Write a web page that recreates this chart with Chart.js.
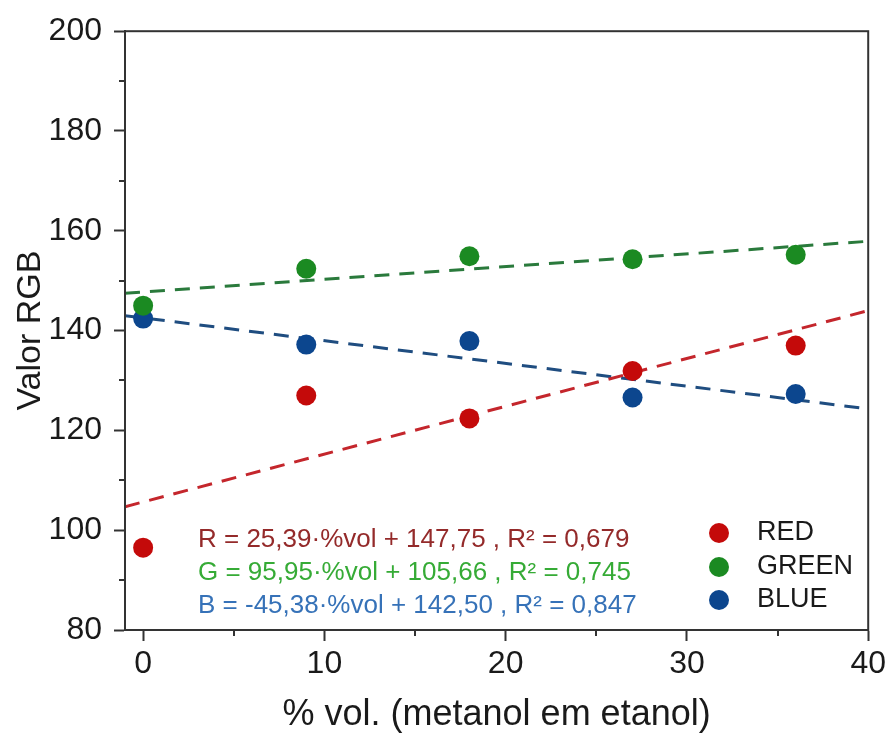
<!DOCTYPE html>
<html>
<head>
<meta charset="utf-8">
<script src="https://cdn.jsdelivr.net/npm/chart.js@4/dist/chart.umd.min.js"></script>
<style>
  html, body { margin: 0; padding: 0; background: #ffffff; }
  #wrap { width: 890px; height: 738px; position: relative; }
</style>
</head>
<body>
<div id="wrap"><canvas id="c" width="890" height="738"></canvas></div>
<script>
// ---- data ----
const xValues = [0, 9, 18, 27, 36];
const redValues = [96.5, 127.0, 122.4, 131.9, 137.0];
const greenValues = [145.0, 152.4, 154.9, 154.3, 155.2];
const blueValues = [142.4, 137.2, 137.9, 126.6, 127.3];

const trendX = [-1, 40];
const redTrend = [104.7, 144.0];
const greenTrend = [147.5, 157.9];
const blueTrend = [143.0, 124.3];

const seriesLabels = ['RED', 'GREEN', 'BLUE'];
const equationLines = [
  'R = 25,39·%vol + 147,75 , R² = 0,679',
  'G = 95,95·%vol + 105,66 , R² = 0,745',
  'B = -45,38·%vol + 142,50 , R² = 0,847'
];

const xMajorTicks = [0, 10, 20, 30, 40];
const xMinorTicks = [5, 15, 25, 35];
const yMajorTicks = [80, 100, 120, 140, 160, 180, 200];
const yMinorTicks = [90, 110, 130, 150, 170, 190];

const xTitle = '% vol. (metanol em etanol)';
const yTitle = 'Valor RGB';

// ---- styles ----
const pointColors = ['#c40a0a', '#1b8a22', '#0c468e'];
const lineColors = ['#c4262c', '#2a7a3c', '#1f4d80'];
const eqColors = ['#942a2a', '#36ab36', '#3672b8'];
const FONT = "'Liberation Sans', Arial, sans-serif";
const AXIS = '#333333';

function pts(xs, ys) { return xs.map((x, i) => ({ x: x, y: ys[i] })); }

const scatterData = [redValues, greenValues, blueValues];
const trendData = [redTrend, greenTrend, blueTrend];

const datasets = [];
for (let i = 0; i < 3; i++) {
  datasets.push({
    type: 'line',
    label: seriesLabels[i] + ' fit',
    data: pts(trendX, trendData[i]),
    borderColor: lineColors[i],
    borderWidth: 3,
    borderDash: [15, 10],
    pointRadius: 0,
    fill: false,
    order: 2
  });
}
for (let i = 0; i < 3; i++) {
  datasets.push({
    type: 'scatter',
    label: seriesLabels[i],
    data: pts(xValues, scatterData[i]),
    backgroundColor: pointColors[i],
    borderColor: pointColors[i],
    borderWidth: 0,
    pointRadius: 10,
    pointHoverRadius: 10,
    order: 1
  });
}

const decor = {
  id: 'decor',
  afterDraw(chart) {
    const ctx = chart.ctx;
    const a = chart.chartArea;
    const xs = chart.scales.x, ys = chart.scales.y;
    ctx.save();
    // frame
    ctx.strokeStyle = AXIS;
    ctx.lineWidth = 2;
    ctx.strokeRect(a.left, a.top, a.right - a.left, a.bottom - a.top);
    // minor ticks
    ctx.beginPath();
    yMinorTicks.forEach(v => {
      const y = Math.round(ys.getPixelForValue(v));
      ctx.moveTo(a.left, y); ctx.lineTo(a.left - 6, y);
    });
    xMinorTicks.forEach(v => {
      const x = Math.round(xs.getPixelForValue(v));
      ctx.moveTo(x, a.bottom); ctx.lineTo(x, a.bottom + 6);
    });
    ctx.stroke();

    // equations
    ctx.font = '26px ' + FONT;
    ctx.textAlign = 'left';
    ctx.textBaseline = 'middle';
    const eqY = [540, 573, 606];
    equationLines.forEach((t, i) => {
      ctx.fillStyle = eqColors[i];
      ctx.fillText(t, 198, eqY[i]);
    });

    // legend
    const scatters = chart.data.datasets.filter(d => d.type === 'scatter');
    const legY = [533, 567, 600];
    ctx.font = '27px ' + FONT;
    scatters.forEach((d, i) => {
      ctx.fillStyle = d.backgroundColor;
      ctx.beginPath();
      ctx.arc(719, legY[i], 10, 0, Math.PI * 2);
      ctx.fill();
      ctx.fillStyle = '#1a1a1a';
      ctx.fillText(d.label, 757, legY[i]);
    });
    ctx.restore();
  }
};

new Chart(document.getElementById('c'), {
  data: { datasets: datasets },
  options: {
    responsive: false,
    animation: false,
    layout: { padding: { top: 30, right: 17, left: 0, bottom: 0 } },
    plugins: { legend: { display: false }, tooltip: { enabled: false } },
    scales: {
      x: {
        type: 'linear',
        position: 'bottom',
        min: -1,
        max: 40,
        afterBuildTicks: s => { s.ticks = xMajorTicks.map(v => ({ value: v })); },
        afterFit: s => { s.height = 108; },
        ticks: {
          font: { family: FONT, size: 32 },
          color: '#1a1a1a',
          padding: 4,
          maxRotation: 0
        },
        grid: { drawOnChartArea: false, drawTicks: true, tickLength: 11, tickWidth: 2, tickColor: AXIS },
        border: { display: true, color: AXIS, width: 2 },
        title: {
          display: true, text: xTitle,
          font: { family: FONT, size: 36 }, color: '#1a1a1a',
          padding: { top: 0, bottom: 1 }
        }
      },
      y: {
        type: 'linear',
        position: 'left',
        min: 80,
        max: 200,
        afterBuildTicks: s => { s.ticks = yMajorTicks.map(v => ({ value: v })); },
        afterFit: s => { s.width = 125; },
        ticks: {
          font: { family: FONT, size: 32 },
          color: '#1a1a1a',
          padding: 12
        },
        grid: { drawOnChartArea: false, drawTicks: true, tickLength: 11, tickWidth: 2, tickColor: AXIS },
        border: { display: true, color: AXIS, width: 2 },
        title: {
          display: true, text: yTitle,
          font: { family: FONT, size: 34 }, color: '#1a1a1a',
          padding: { top: 10, bottom: 0 }
        }
      }
    }
  },
  plugins: [decor]
});
</script>
</body>
</html>
